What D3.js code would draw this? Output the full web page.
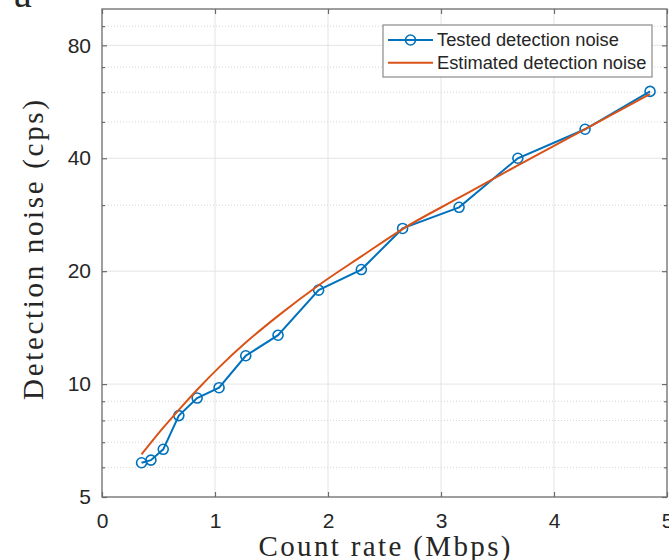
<!DOCTYPE html>
<html>
<head>
<meta charset="utf-8">
<script src="https://cdn.jsdelivr.net/npm/d3@7"></script>
<style>
  body { margin: 0; background: #fff; }
  svg { display: block; }
</style>
</head>
<body>
<svg></svg>
<script>
// measured points (Mbps, cps)
var rateX = [0.35, 0.433, 0.542, 0.68, 0.842, 1.036, 1.272, 1.558, 1.917, 2.295, 2.66, 3.16, 3.68, 4.275, 4.85]
var testedNoise = [6.17, 6.27, 6.7, 8.24, 9.18, 9.78, 11.9, 13.5, 17.8, 20.2, 26.0, 29.6, 40.0, 47.8, 60.3]
var estimatedNoise = [6.5, 6.98, 7.65, 8.54, 9.66, 11.08, 12.9, 15.2, 18.35, 21.9, 25.9, 31.4, 38.3, 47.8, 59.3]

var xTicks = [0, 1, 2, 3, 4, 5]
var yTicks = [5, 10, 20, 40, 80]
var yMinor = [6, 7, 8, 9, 30, 50, 60, 70, 90]
var seriesNames = ["Tested detection noise", "Estimated detection noise"]

var dimensions = {
    width: 669,
    height: 560,
    margin: { top: 9, bottom: 63, left: 102, right: 2 }
}

var svg = d3.select("svg")
            .attr("width", dimensions.width)
            .attr("height", dimensions.height)

var x = d3.scaleLinear()
          .domain([0, 5])
          .range([dimensions.margin.left, dimensions.width - dimensions.margin.right])
var y = d3.scaleLog()
          .domain([5, 100])
          .range([dimensions.height - dimensions.margin.bottom, dimensions.margin.top])

var x0 = x.range()[0], x1 = x.range()[1]
var y0 = y.range()[0], y1 = y.range()[1]

var blue = "#0072BD"
var orange = "#D95319"
var axisColor = "#6b6b6b"

// grid
var grid = svg.append("g")
grid.selectAll(".vgrid")
    .data(xTicks.slice(1, -1))
    .enter().append("line")
    .attr("x1", d => x(d)).attr("x2", d => x(d))
    .attr("y1", y1).attr("y2", y0)
    .attr("stroke", "#e4e4e4").attr("stroke-width", 1)
grid.selectAll(".hgrid")
    .data(yTicks.slice(1))
    .enter().append("line")
    .attr("x1", x0).attr("x2", x1)
    .attr("y1", d => y(d)).attr("y2", d => y(d))
    .attr("stroke", "#e4e4e4").attr("stroke-width", 1)
grid.selectAll(".mgrid")
    .data(yMinor)
    .enter().append("line")
    .attr("x1", x0).attr("x2", x1)
    .attr("y1", d => y(d)).attr("y2", d => y(d))
    .attr("stroke", "#d4d4d4").attr("stroke-width", 1)
    .attr("stroke-dasharray", "1,2")

// axes with inward ticks
var tickFont = "'Liberation Sans', Arial, Helvetica, sans-serif"

var xAxis = svg.append("g")
               .attr("transform", "translate(0," + y0 + ")")
               .call(d3.axisBottom(x).tickValues(xTicks).tickSize(-5).tickPadding(16).tickFormat(d3.format("d")))
var yAxis = svg.append("g")
               .attr("transform", "translate(" + x0 + ",0)")
               .call(d3.axisLeft(y).tickValues(yTicks).tickSize(-5).tickPadding(11).tickFormat(d3.format("d")))
svg.append("g")
   .attr("transform", "translate(0," + y1 + ")")
   .call(d3.axisTop(x).tickValues(xTicks).tickSize(-5).tickFormat(""))
svg.append("g")
   .attr("transform", "translate(" + x1 + ",0)")
   .call(d3.axisRight(y).tickValues(yTicks).tickSize(-5).tickFormat(""))
svg.append("g")
   .attr("transform", "translate(" + x0 + ",0)")
   .call(d3.axisLeft(y).tickValues(yMinor).tickSize(-3).tickFormat(""))
svg.append("g")
   .attr("transform", "translate(" + x1 + ",0)")
   .call(d3.axisRight(y).tickValues(yMinor).tickSize(-3).tickFormat(""))

svg.selectAll(".domain").remove()
svg.selectAll(".tick line").attr("stroke", axisColor).attr("stroke-width", 1.2)
svg.selectAll(".tick text")
   .attr("fill", "#262626")
   .style("font-family", tickFont)
   .style("font-size", "21px")

// frame
svg.append("rect")
   .attr("x", x0).attr("y", y1)
   .attr("width", x1 - x0).attr("height", y0 - y1)
   .attr("fill", "none")
   .attr("stroke", axisColor)
   .attr("stroke-width", 1.3)

// series
var tested = rateX.map((d, i) => [d, testedNoise[i]])
var estimated = rateX.map((d, i) => [d, estimatedNoise[i]])

var line = d3.line().x(d => x(d[0])).y(d => y(d[1]))
var smooth = d3.line().x(d => x(d[0])).y(d => y(d[1])).curve(d3.curveMonotoneX)

svg.append("path")
   .attr("d", line(tested))
   .attr("fill", "none")
   .attr("stroke", blue)
   .attr("stroke-width", 2)
svg.append("g")
   .selectAll("circle")
   .data(tested)
   .enter().append("circle")
   .attr("cx", d => x(d[0]))
   .attr("cy", d => y(d[1]))
   .attr("r", 5)
   .attr("fill", "none")
   .attr("stroke", blue)
   .attr("stroke-width", 1.6)
svg.append("path")
   .attr("d", smooth(estimated))
   .attr("fill", "none")
   .attr("stroke", orange)
   .attr("stroke-width", 2)

// legend
var legend = svg.append("g").attr("transform", "translate(383,25)")
legend.append("rect")
      .attr("width", 269).attr("height", 52)
      .attr("fill", "#fff")
      .attr("stroke", "#8a8a8a")
      .attr("stroke-width", 1.2)
var legendColors = [blue, orange]
seriesNames.forEach(function(name, i) {
    var ly = 15 + i * 22.7
    legend.append("line")
          .attr("x1", 5).attr("x2", 50)
          .attr("y1", ly).attr("y2", ly)
          .attr("stroke", legendColors[i])
          .attr("stroke-width", 2)
    if (i == 0) {
        legend.append("circle")
              .attr("cx", 27.5).attr("cy", ly).attr("r", 5)
              .attr("fill", "none")
              .attr("stroke", blue)
              .attr("stroke-width", 1.6)
    }
    legend.append("text")
          .attr("x", 54).attr("y", ly)
          .attr("dy", "0.35em")
          .attr("fill", "#262626")
          .style("font-family", tickFont)
          .style("font-size", "18.3px")
          .text(name)
})

// axis labels
var labelFont = "'Liberation Serif', 'Times New Roman', serif"
svg.append("text")
   .attr("x", (x0 + x1) / 2)
   .attr("y", 556)
   .attr("text-anchor", "middle")
   .attr("textLength", 252)
   .attr("lengthAdjust", "spacing")
   .attr("fill", "#262626")
   .style("font-family", labelFont)
   .style("font-size", "29px")
   .text("Count rate (Mbps)")
svg.append("text")
   .attr("transform", "translate(43,250) rotate(-90)")
   .attr("text-anchor", "middle")
   .attr("textLength", 300)
   .attr("lengthAdjust", "spacing")
   .attr("fill", "#262626")
   .style("font-family", labelFont)
   .style("font-size", "29px")
   .text("Detection noise (cps)")

// panel letter, mostly cut off at the top
svg.append("text")
   .attr("x", 14).attr("y", 7)
   .attr("fill", "#262626")
   .style("font-family", labelFont)
   .style("font-size", "40px")
   .text("a")
</script>
</body>
</html>
